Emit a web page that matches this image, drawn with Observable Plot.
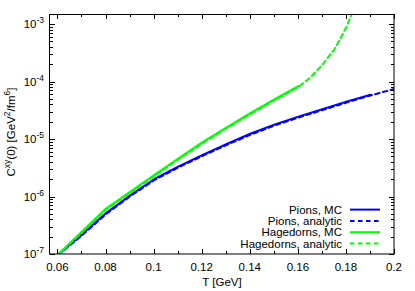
<!DOCTYPE html>
<html><head><meta charset="utf-8">
<script src="https://cdn.jsdelivr.net/npm/d3@7"></script>
<script src="https://cdn.jsdelivr.net/npm/@observablehq/plot@0.6"></script>
<style>body{margin:0;background:#fff} svg{display:block}</style>
</head><body><div id="chart"></div>
<script>
// ---- data ----
const pionsMC_T = [0.06, 0.07, 0.08, 0.09, 0.10, 0.11, 0.12, 0.13, 0.14, 0.15, 0.16, 0.17, 0.18, 0.19];
const pionsMC_C = [1.0e-7, 2.24e-7, 5.25e-7, 1.07e-6, 2.04e-6, 3.39e-6, 5.37e-6, 8.32e-6, 1.26e-5, 1.82e-5, 2.51e-5, 3.39e-5, 4.57e-5, 6.03e-5];
const pionsAn_T = [0.06, 0.07, 0.08, 0.09, 0.10, 0.11, 0.12, 0.13, 0.14, 0.15, 0.16, 0.17, 0.18, 0.19, 0.20];
const pionsAn_C = [0.97e-7, 2.15e-7, 5.05e-7, 1.03e-6, 1.96e-6, 3.26e-6, 5.16e-6, 8.0e-6, 1.21e-5, 1.75e-5, 2.41e-5, 3.26e-5, 4.39e-5, 5.85e-5, 7.6e-5];
const hagMC_T = [0.06, 0.07, 0.08, 0.09, 0.10, 0.11, 0.12, 0.13, 0.14, 0.15, 0.16];
const hagMC_C = [1.0e-7, 2.51e-7, 6.31e-7, 1.23e-6, 2.40e-6, 4.68e-6, 8.91e-6, 1.62e-5, 2.88e-5, 5.01e-5, 8.51e-5];
const hagAn_T = [0.06, 0.07, 0.08, 0.09, 0.10, 0.11, 0.12, 0.13, 0.14, 0.15, 0.16, 0.165, 0.17, 0.175, 0.178, 0.18, 0.182, 0.184];
const hagAn_C = [0.97e-7, 2.42e-7, 6.05e-7, 1.18e-6, 2.30e-6, 4.5e-6, 8.55e-6, 1.56e-5, 2.77e-5, 4.82e-5, 8.2e-5, 1.2e-4, 2.0e-4, 3.72e-4, 6.3e-4, 9.1e-4, 1.45e-3, 2.5e-3];

const xTicks = [0.06, 0.08, 0.10, 0.12, 0.14, 0.16, 0.18, 0.20];
const xTickLabels = ["0.06", "0.08", "0.1", "0.12", "0.14", "0.16", "0.18", "0.2"];
const xMinorTicks = [0.07, 0.09, 0.11, 0.13, 0.15, 0.17, 0.19];
const yTicks = [1e-7, 1e-6, 1e-5, 1e-4, 1e-3];
const yTickExp = ["-7", "-6", "-5", "-4", "-3"];

const legendLabels = ["Pions, MC", "Pions, analytic", "Hagedorns, MC", "Hagedorns, analytic"];
const legendColors = ["#0000ff", "#0000ff", "#00ff00", "#00ff00"];
const legendDashed = [false, true, false, true];

const toRows = (T, C) => T.map((t, i) => ({T: t, C: C[i]}));
const font = "'Liberation Sans', Arial, Helvetica, sans-serif";
const DASH = "4.5,3.5";
const FS = 11.5, SFS = 8.5;

function axes(index, scales, values, dims) {
  const {x, y} = scales;
  const L = dims.marginLeft, R = dims.width - dims.marginRight;
  const T = dims.marginTop, B = dims.height - dims.marginBottom;
  const g = d3.create("svg:g");
  const tk = g.append("g").attr("stroke", "#000").attr("stroke-width", 1).attr("fill", "none");
  const major = 5, minor = 3;
  xTicks.forEach(v => {
    const px = Math.round(x(v)) + 0.5;
    tk.append("line").attr("x1", px).attr("x2", px).attr("y1", B).attr("y2", B - major);
    tk.append("line").attr("x1", px).attr("x2", px).attr("y1", T).attr("y2", T + major);
  });
  xMinorTicks.forEach(v => {
    const px = Math.round(x(v)) + 0.5;
    tk.append("line").attr("x1", px).attr("x2", px).attr("y1", B).attr("y2", B - minor);
    tk.append("line").attr("x1", px).attr("x2", px).attr("y1", T).attr("y2", T + minor);
  });
  yTicks.forEach((v, i) => {
    const py = Math.round(y(v)) + 0.5;
    tk.append("line").attr("x1", L).attr("x2", L + major).attr("y1", py).attr("y2", py);
    tk.append("line").attr("x1", R).attr("x2", R - major).attr("y1", py).attr("y2", py);
    for (let m = 2; m <= 9; m++) {
      const yy = y(v * m);
      if (yy < T) continue;
      const pm = Math.round(yy) + 0.5;
      tk.append("line").attr("x1", L).attr("x2", L + minor).attr("y1", pm).attr("y2", pm);
      tk.append("line").attr("x1", R).attr("x2", R - minor).attr("y1", pm).attr("y2", pm);
    }
  });
  tk.append("rect").attr("x", L - 0.5).attr("y", T + 0.5).attr("width", R - L + 0.5).attr("height", B - T - 0.5);

  const tx = g.append("g").attr("fill", "#000").attr("font-family", font).attr("font-size", FS);
  xTicks.forEach((v, i) => {
    tx.append("text").attr("x", x(v)).attr("y", B + 17).attr("text-anchor", "middle").text(xTickLabels[i]);
  });
  yTicks.forEach((v, i) => {
    const t = tx.append("text").attr("x", L - 6).attr("y", y(v) + 4).attr("text-anchor", "end");
    t.append("tspan").text("10");
    t.append("tspan").attr("dy", -5).attr("font-size", SFS).text(yTickExp[i]);
  });
  tx.append("text").attr("x", (L + R) / 2).attr("y", B + 32).attr("text-anchor", "middle").text("T [GeV]");
  const yl = tx.append("text").attr("text-anchor", "middle")
    .attr("transform", `translate(15,${(T + B) / 2 - 2}) rotate(-90)`);
  yl.append("tspan").text("C");
  yl.append("tspan").attr("dy", -5).attr("font-size", SFS).text("xy");
  yl.append("tspan").attr("dy", 5).text("(0) [GeV");
  yl.append("tspan").attr("dy", -5).attr("font-size", SFS).text("2");
  yl.append("tspan").attr("dy", 5).text("/fm");
  yl.append("tspan").attr("dy", -5).attr("font-size", SFS).text("6");
  yl.append("tspan").attr("dy", 5).text("]");
  return g.node();
}

function legend(index, scales, values, dims) {
  const R = dims.width - dims.marginRight;
  const B = dims.height - dims.marginBottom;
  const g = d3.create("svg:g").attr("font-family", font).attr("font-size", FS);
  legendLabels.forEach((lab, i) => {
    const yy = B - 10.5 - 11.3 * (legendLabels.length - 1 - i);
    g.append("text").attr("x", R - 52).attr("y", yy + 4).attr("text-anchor", "end").attr("fill", "#000").text(lab);
    g.append("line").attr("x1", R - 44).attr("x2", R - 14).attr("y1", yy).attr("y2", yy)
      .attr("stroke", legendColors[i]).attr("stroke-width", 2)
      .attr("stroke-dasharray", legendDashed[i] ? DASH : null);
  });
  return g.node();
}

const chart = Plot.plot({
  width: 415, height: 291,
  marginLeft: 50, marginRight: 21, marginTop: 14, marginBottom: 37,
  style: {fontFamily: font, fontSize: "11.5px", background: "#fff", color: "#000"},
  x: {domain: [0.0569, 0.2], axis: null},
  y: {type: "log", domain: [1e-7, 1.5e-3], axis: null},
  marks: [
    Plot.line(toRows(pionsMC_T, pionsMC_C), {x: "T", y: "C", stroke: "#0000ff", strokeWidth: 2, clip: true}),
    Plot.line(toRows(pionsAn_T, pionsAn_C), {x: "T", y: "C", stroke: "#0000ff", strokeWidth: 2, strokeDasharray: DASH, clip: true}),
    Plot.line(toRows(hagMC_T, hagMC_C), {x: "T", y: "C", stroke: "#00ff00", strokeWidth: 2, clip: true}),
    Plot.line(toRows(hagAn_T, hagAn_C), {x: "T", y: "C", stroke: "#00ff00", strokeWidth: 2, strokeDasharray: DASH, clip: true}),
    axes,
    legend
  ]
});
document.getElementById("chart").appendChild(chart);
</script>
</body></html>
